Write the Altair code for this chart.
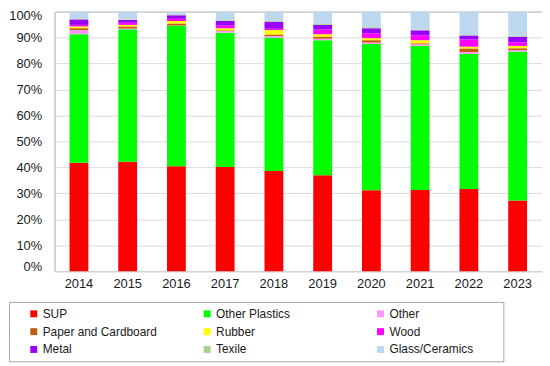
import altair as alt
import pandas as pd

years = ["2014", "2015", "2016", "2017", "2018", "2019", "2020", "2021", "2022", "2023"]
categories = ["SUP", "Other Plastics", "Other", "Paper and Cardboard", "Rubber",
              "Wood", "Metal", "Texile", "Glass/Ceramics"]
colors = ["#FF0000", "#00FF00", "#FF99FF", "#C55A11", "#FFFF00",
          "#FF00FF", "#9900FF", "#A9D18E", "#BDD7EE"]

sup            = [41.8, 42.2, 40.4, 40.1, 38.6, 37.0, 31.2, 31.3, 31.7, 27.2]
other_plastics = [49.5, 51.0, 54.2, 51.8, 51.4, 52.0, 56.3, 55.5, 52.0, 57.4]
other          = [1.6, 0.3, 0.1, 0.6, 0.6, 0.6, 0.6, 0.6, 0.7, 0.6]
paper          = [0.7, 0.8, 0.7, 0.3, 0.6, 0.8, 0.9, 0.4, 1.4, 0.7]
rubber         = [0.7, 0.6, 1.0, 0.8, 1.7, 0.9, 0.8, 1.2, 0.7, 0.9]
wood           = [0.6, 0.8, 0.9, 1.0, 0.5, 1.8, 1.9, 1.9, 2.8, 1.4]
metal          = [2.1, 1.1, 1.3, 1.8, 2.7, 1.8, 1.9, 1.9, 1.5, 2.1]
textile        = [0.2, 0.2, 0.3, 0.3, 0.3, 0.4, 0.4, 0.3, 0.2, 0.4]
glass          = [2.8, 3.0, 1.1, 3.3, 3.6, 4.7, 6.0, 6.9, 9.0, 9.3]

series = [sup, other_plastics, other, paper, rubber, wood, metal, textile, glass]

rows = []
for ci, (cat, vals) in enumerate(zip(categories, series)):
    for y, v in zip(years, vals):
        rows.append({"year": y, "category": cat, "value": v, "order": ci})
df = pd.DataFrame(rows)

FONT = "Liberation Sans"
TEXT = "#1a1a1a"

chart = alt.Chart(df).mark_bar().encode(
    x=alt.X("year:N", title=None, sort=years,
            scale=alt.Scale(paddingInner=0.614, paddingOuter=0.307),
            axis=alt.Axis(labelAngle=0, ticks=False, domain=False, labelPadding=6,
                          labelFontSize=13, labelFont=FONT, labelColor=TEXT)),
    y=alt.Y("value:Q", title=None, stack="zero",
            scale=alt.Scale(domain=[0, 100], nice=False),
            axis=alt.Axis(values=list(range(0, 101, 10)), labelExpr="datum.value + '%'",
                          ticks=False, domain=False, gridColor="#D9D9D9", labelPadding=13,
                          labelFlush=True, labelFlushOffset=2,
                          labelFontSize=13, labelFont=FONT, labelColor=TEXT)),
    color=alt.Color("category:N", scale=alt.Scale(domain=categories, range=colors),
                    legend=alt.Legend(
                        title="\u00a0", titleOrient="right", titlePadding=24,
                        titleFontSize=12, titleFont=FONT,
                        orient="none", legendX=-46, legendY=293,
                        columns=3, direction="horizontal", gridAlign="all",
                        columnPadding=31, rowPadding=6, padding=6,
                        symbolOffset=13, symbolType="square", symbolSize=49,
                        symbolStrokeWidth=0, labelOffset=3, labelLimit=300,
                        labelFontSize=12, labelFont=FONT, labelColor=TEXT,
                        strokeColor="#A6A6A6")),
    order=alt.Order("order:Q", sort="ascending"),
).properties(
    width=492, height=262,
    padding={"left": 0, "top": 0, "right": 0, "bottom": 0},
).configure_view(stroke="#A6A6A6")

chart.save("out.html", embed_options={"renderer": "svg", "actions": False})
